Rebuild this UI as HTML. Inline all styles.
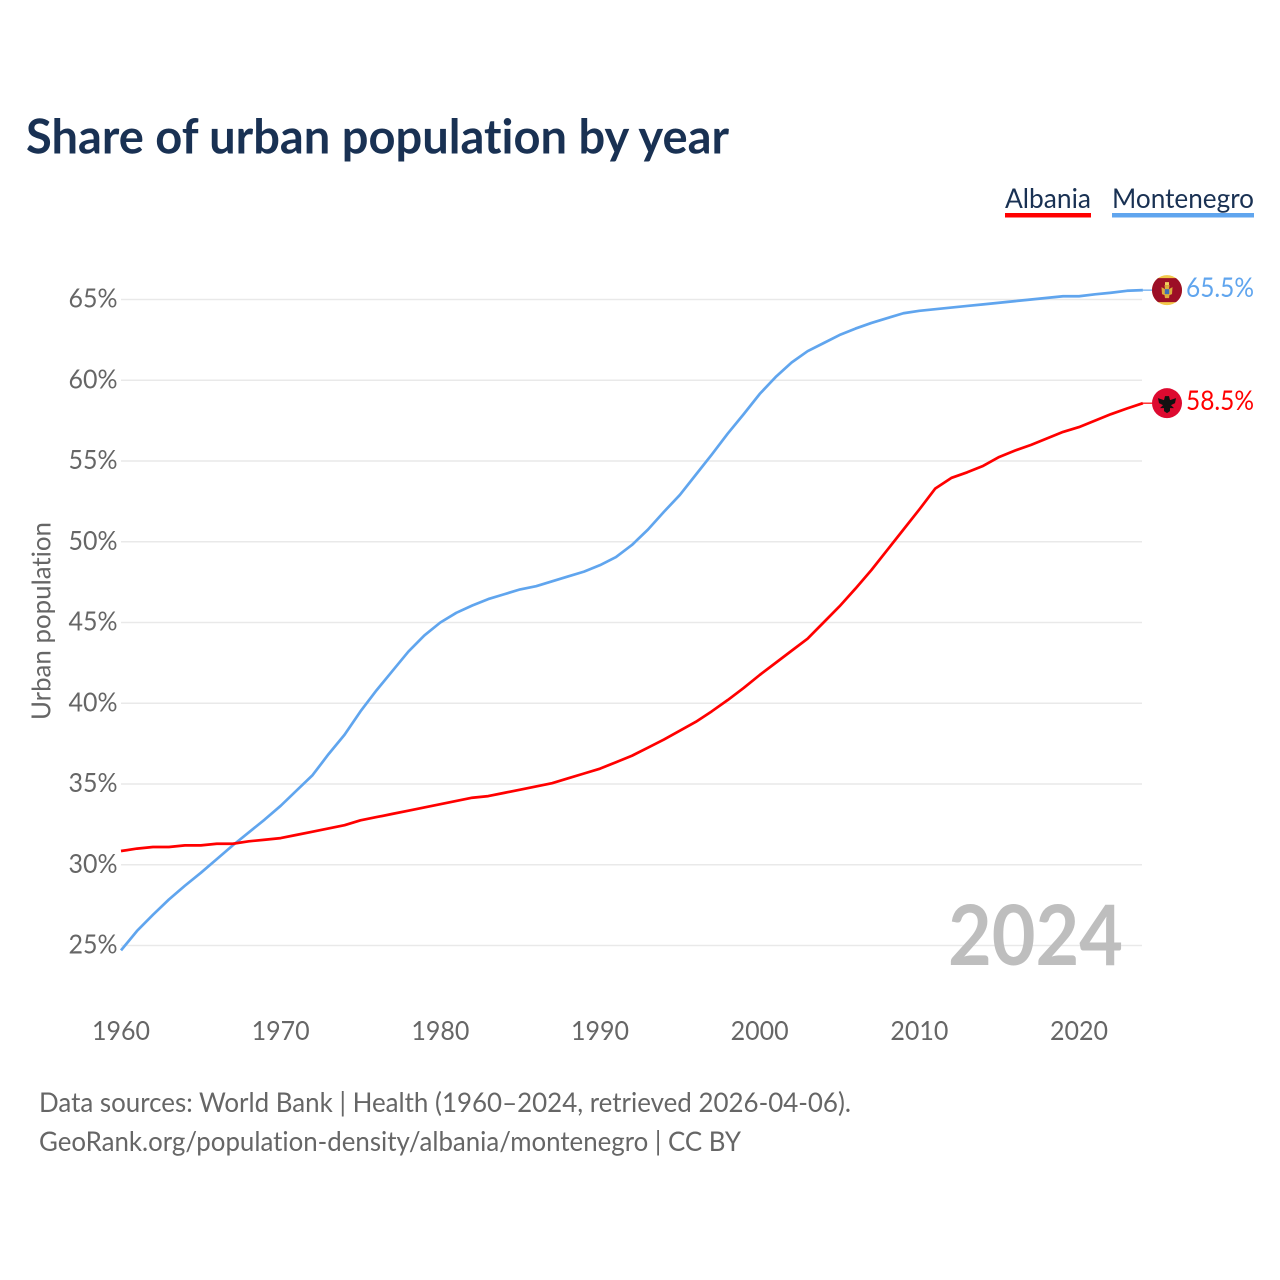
<!DOCTYPE html>
<html lang="en">
<head>
<meta charset="utf-8">
<title>Share of urban population by year</title>
<style>
html,body{margin:0;padding:0;background:#fff;}
svg{display:block;}
text{font-family:"Lato","Carlito","Liberation Sans",sans-serif;font-variant-ligatures:none;font-feature-settings:"liga" 0,"clig" 0;}
</style>
</head>
<body>
<svg id="chart" xmlns="http://www.w3.org/2000/svg" width="1280" height="1280" viewBox="0 0 1280 1280">
  <rect x="0" y="0" width="1280" height="1280" fill="#ffffff"/>
  <text x="26" y="153.5" font-size="47.5" font-weight="700" fill="#193153" textLength="703" lengthAdjust="spacingAndGlyphs">Share of urban population by year</text>

  <g>
    <g>
      <text x="1005" y="208" font-size="27.5" fill="#193153" textLength="86" lengthAdjust="spacingAndGlyphs">Albania</text>
      <rect x="1005" y="213" width="86" height="4.5" fill="#ff0000"/>
    </g>
    <g>
      <text x="1112" y="208" font-size="27.5" fill="#193153" textLength="142" lengthAdjust="spacingAndGlyphs">Montenegro</text>
      <rect x="1112" y="213" width="142" height="4.5" fill="#60a5ee"/>
    </g>
  </g>

  <g id="grid"></g>
  <g id="y-ticks"></g>
  <g id="x-ticks"></g>

  <text transform="translate(50.5 720) rotate(-90)" x="0" y="0" font-size="26.5" fill="#666666" textLength="198" lengthAdjust="spacingAndGlyphs">Urban population</text>

  <text x="948" y="965" font-size="83" font-weight="700" fill="#bebebe" textLength="175" lengthAdjust="spacingAndGlyphs">2024</text>

  <g id="series"></g>
  <g id="endpoints"></g>

  <text x="39" y="1112" font-size="27" fill="#666666" textLength="812" lengthAdjust="spacingAndGlyphs">Data sources: World Bank | Health (1960–2024, retrieved 2026-04-06).</text>
  <text x="39" y="1151" font-size="27" fill="#666666" textLength="702" lengthAdjust="spacingAndGlyphs">GeoRank.org/population-density/albania/montenegro | CC BY</text>
</svg>

<script>
const startYear = 1960;
const albaniaValues = [
  30.85,31.0,31.1,31.1,31.2,31.2,31.3,31.3,31.45,31.55,
  31.65,31.85,32.05,32.25,32.45,32.75,32.95,33.15,33.35,33.55,
  33.75,33.95,34.15,34.25,34.45,34.65,34.85,35.05,35.35,35.65,
  35.95,36.35,36.75,37.25,37.75,38.3,38.85,39.5,40.2,40.95,
  41.75,42.5,43.25,44.0,45.0,46.0,47.1,48.25,49.5,50.75,
  52.0,53.3,53.95,54.3,54.7,55.25,55.65,56.0,56.4,56.8,
  57.1,57.5,57.9,58.25,58.58
];
const montenegroValues = [
  24.7,25.9,26.9,27.85,28.7,29.5,30.35,31.2,32.0,32.8,
  33.65,34.6,35.55,36.85,38.05,39.5,40.8,42.0,43.2,44.2,
  45.0,45.6,46.05,46.45,46.75,47.05,47.25,47.55,47.85,48.15,
  48.55,49.05,49.8,50.75,51.85,52.9,54.15,55.4,56.7,57.9,
  59.15,60.2,61.1,61.8,62.3,62.8,63.2,63.55,63.85,64.15,
  64.3,64.4,64.5,64.6,64.7,64.8,64.9,65.0,65.1,65.2,
  65.2,65.32,65.42,65.54,65.58
];
const yTickValues = [25,30,35,40,45,50,55,60,65];
const xTickValues = [1960,1970,1980,1990,2000,2010,2020];

const NS = 'http://www.w3.org/2000/svg';
function xScale(year){ return 121 + (year - 1960) * 15.967; }
function yScale(v){ return 945.5 - (v - 25) * 16.15; }
function mk(tag, attrs, parent){
  const el = document.createElementNS(NS, tag);
  for (const k in attrs) el.setAttribute(k, attrs[k]);
  parent.appendChild(el);
  return el;
}

const gridG = document.getElementById('grid');
const yG = document.getElementById('y-ticks');
const xG = document.getElementById('x-ticks');
const seriesG = document.getElementById('series');
const endG = document.getElementById('endpoints');

yTickValues.forEach(function(v){
  const line = mk('line', {x1:121, x2:1142, y1:yScale(v), y2:yScale(v), stroke:'#e9e9e9', 'stroke-width':1.6}, gridG);
  
  
  const t = mk('text', {x:68.5, y:yScale(v)+8, 'font-size':26.5, fill:'#666666', textLength:49, lengthAdjust:'spacingAndGlyphs'}, yG);
  t.textContent = v + '%';
  
  
});

xTickValues.forEach(function(y){
  const t = mk('text', {x:xScale(y)-29, y:1040, 'font-size':26.5, fill:'#666666', textLength:58, lengthAdjust:'spacingAndGlyphs'}, xG);
  t.textContent = String(y);
  
  
});

function drawLine(values, color, name){
  const pts = values.map(function(v, i){
    return xScale(startYear + i).toFixed(2) + ',' + yScale(v).toFixed(2);
  }).join(' ');
  const p = mk('polyline', {points:pts, fill:'none', stroke:color, 'stroke-width':2.7, 'stroke-linejoin':'round', 'stroke-linecap':'butt'}, seriesG);
  
  
}
drawLine(montenegroValues, '#60a5ee', 'line-montenegro');
drawLine(albaniaValues, '#ff0000', 'line-albania');

function drawEnd(values, color, name, drawFlag){
  const last = values[values.length - 1];
  const ex = xScale(startYear + values.length - 1);
  const cy = yScale(last);
  const cx = 1167;
  const lead = mk('line', {x1:ex, x2:cx-14, y1:cy, y2:cy, stroke:color, 'stroke-width':1.2}, endG);
  
  
  const g = mk('g', {transform:'translate(' + cx + ' ' + cy + ')'}, endG);
  
  
  drawFlag(g);
  const t = mk('text', {x:1186, y:cy+7, 'font-size':27, fill:color, textLength:68, lengthAdjust:'spacingAndGlyphs'}, endG);
  t.textContent = (Math.floor(last * 10) / 10).toFixed(1) + '%';
  
  
}

drawEnd(montenegroValues, '#60a5ee', 'montenegro', function(g){
  mk('circle', {r:15, cx:0, cy:0, fill:'#f2c84b'}, g);
  mk('path', {d:'M-9,-12 L9,-12 A15,15 0 0 1 9,12 L-9,12 A15,15 0 0 1 -9,-12 Z', fill:'#9c0f26'}, g);
  mk('path', {d:'M-5.5,-3 L-2,-1 L-2.5,-5 L2.5,-5 L2,-1 L5.5,-3 L5,4 L2.5,5 L2,8 L-2,8 L-2.5,5 L-5,4 Z', fill:'#dcae3c'}, g);
  mk('rect', {x:-2.2, y:-1, width:4.4, height:5, fill:'#3f6fb5'}, g);
  mk('rect', {x:-2, y:-8, width:4, height:3, fill:'#f0d060'}, g);
});
drawEnd(albaniaValues, '#ff0000', 'albania', function(g){
  mk('circle', {r:15, cx:0, cy:0, fill:'#dd0a30'}, g);
  mk('path', {d:'M-2,-7 L2,-7 L3,-3 L9,-5 L8,0 L4,2 L7,5 L3,5 L3,8 L0,10 L-3,8 L-3,5 L-7,5 L-4,2 L-8,0 L-9,-5 L-3,-3 Z', fill:'#111111'}, g);
});
</script>
</body>
</html>
